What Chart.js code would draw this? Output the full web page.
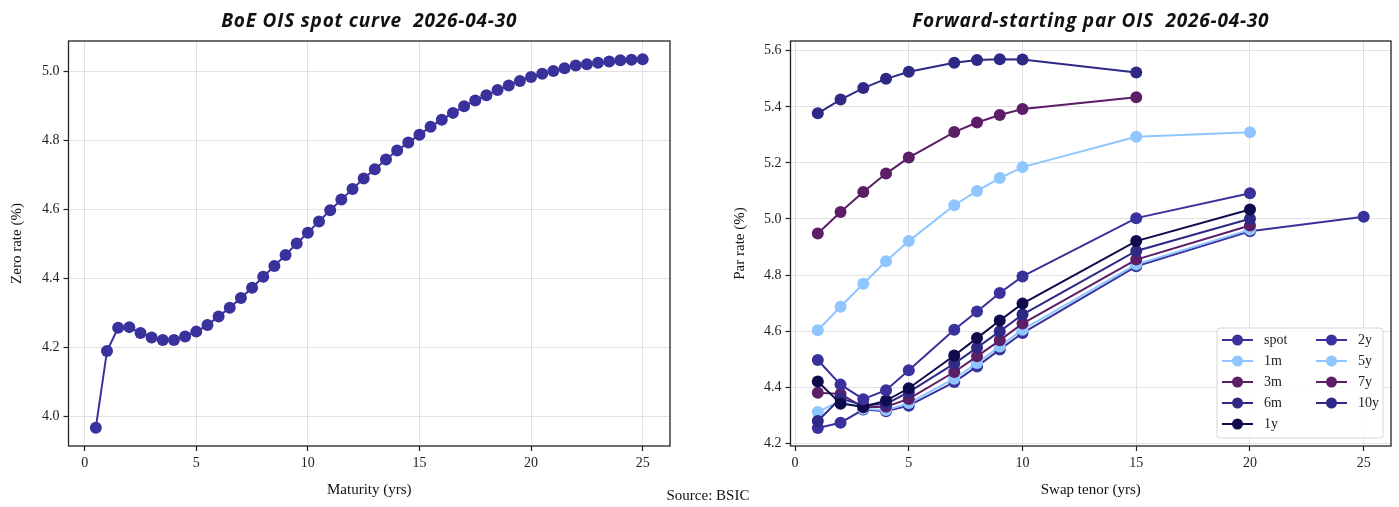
<!DOCTYPE html>
<html>
<head>
<meta charset="utf-8">
<script src="https://cdn.jsdelivr.net/npm/chart.js@4.4.1/dist/chart.umd.min.js"></script>
<style>
  html, body { margin: 0; padding: 0; background: #fff; }
  #wrap { position: relative; width: 1399px; height: 507px; overflow: hidden; }
  #left { position: absolute; left: 0; top: 0; }
  #right { position: absolute; left: 700px; top: 0; }
  #source { position: absolute; left: 608px; width: 200px; top: 487px; text-align: center;
            font: 15px 'Liberation Serif', serif; color: #111; }
</style>
</head>
<body>
<div id="wrap">
  <canvas id="left" width="700" height="507"></canvas>
  <canvas id="right" width="699" height="507"></canvas>
  <div id="source">Source: BSIC</div>
</div>
<script>
// spot zero curve, 0.5y steps
const maturities = [0.5, 1, 1.5, 2, 2.5, 3, 3.5, 4, 4.5, 5, 5.5, 6, 6.5, 7, 7.5, 8, 8.5, 9, 9.5, 10,
  10.5, 11, 11.5, 12, 12.5, 13, 13.5, 14, 14.5, 15, 15.5, 16, 16.5, 17, 17.5, 18, 18.5, 19, 19.5, 20,
  20.5, 21, 21.5, 22, 22.5, 23, 23.5, 24, 24.5, 25];
const zeroRates = [3.968, 4.190, 4.257, 4.259, 4.242, 4.229, 4.222, 4.222, 4.232, 4.246,
  4.265, 4.290, 4.315, 4.343, 4.373, 4.405, 4.436, 4.468, 4.501, 4.532,
  4.565, 4.597, 4.628, 4.659, 4.689, 4.716, 4.744, 4.770, 4.793, 4.816,
  4.839, 4.859, 4.879, 4.898, 4.915, 4.930, 4.945, 4.958, 4.971, 4.983,
  4.992, 5.000, 5.008, 5.016, 5.020, 5.024, 5.028, 5.031, 5.033, 5.034];

// forward-starting par swaps
const tenors = [1, 2, 3, 4, 5, 7, 8, 9, 10, 15, 20, 25];
const fwdLabels = ['spot', '1m', '3m', '6m', '1y', '2y', '5y', '7y', '10y'];
const parSpot = [4.254, 4.273, 4.320, 4.314, 4.334, 4.418, 4.474, 4.534, 4.593, 4.831, 4.956, 5.008];
const par1m = [4.311, 4.352, 4.323, 4.318, 4.343, 4.430, 4.486, 4.545, 4.605, 4.838, 4.962];
const par3m = [4.380, 4.376, 4.328, 4.330, 4.358, 4.454, 4.510, 4.567, 4.627, 4.855, 4.977];
const par6m = [4.279, 4.360, 4.335, 4.340, 4.382, 4.484, 4.541, 4.599, 4.659, 4.886, 5.001];
const par1y = [4.420, 4.341, 4.330, 4.352, 4.396, 4.513, 4.575, 4.638, 4.698, 4.921, 5.034];
const par2y = [4.497, 4.409, 4.357, 4.389, 4.460, 4.605, 4.670, 4.736, 4.795, 5.003, 5.092];
const par5y = [4.603, 4.687, 4.769, 4.849, 4.921, 5.049, 5.100, 5.146, 5.185, 5.293, 5.309];
const par7y = [4.948, 5.025, 5.096, 5.162, 5.219, 5.310, 5.344, 5.371, 5.392, 5.434];
const par10y = [5.377, 5.426, 5.467, 5.500, 5.525, 5.557, 5.567, 5.570, 5.569, 5.523];

const palette = ['#3a329c', '#8fc6ff', '#5c1e66', '#2e2984', '#0f0b4d'];

Chart.defaults.font.family = "'Liberation Serif', serif";
Chart.defaults.font.size = 14;
Chart.defaults.color = '#222';

// box around the plot + title over it
const frame = {
  id: 'frame',
  afterDraw(chart, args, opts) {
    const { ctx, chartArea: a } = chart;
    ctx.save();
    ctx.strokeStyle = '#222';
    ctx.lineWidth = 1.3;
    ctx.strokeRect(a.left, a.top, a.right - a.left, a.bottom - a.top);
    ctx.fillStyle = '#111';
    ctx.font = "italic bold 19px 'Open Sans'";
    ctx.letterSpacing = '0.8px';
    ctx.textAlign = 'center';
    ctx.textBaseline = 'middle';
    ctx.fillText(opts.text, (a.left + a.right) / 2, 22);
    ctx.restore();
  }
};

// two-column legend inside the lower right corner
const boxLegend = {
  id: 'boxLegend',
  afterDraw(chart) {
    const { ctx, chartArea: a } = chart;
    const ds = chart.data.datasets;
    const w = 166, h = 110, rowH = 21;
    const x0 = a.right - 8 - w, y0 = a.bottom - 8 - h;
    ctx.save();
    ctx.beginPath();
    ctx.roundRect(x0, y0, w, h, 3);
    ctx.fillStyle = 'rgba(255,255,255,0.85)';
    ctx.fill();
    ctx.strokeStyle = '#d6d6d6';
    ctx.lineWidth = 1;
    ctx.stroke();
    ctx.font = "14px 'Liberation Serif', serif";
    ctx.textBaseline = 'middle';
    ds.forEach((d, i) => {
      const col = i < 5 ? 0 : 1;
      const row = i < 5 ? i : i - 5;
      const lx = x0 + 5 + col * 94;
      const ly = y0 + 12 + row * rowH;
      ctx.strokeStyle = d.borderColor;
      ctx.lineWidth = 2;
      ctx.beginPath();
      ctx.moveTo(lx, ly);
      ctx.lineTo(lx + 31, ly);
      ctx.stroke();
      ctx.fillStyle = d.borderColor;
      ctx.beginPath();
      ctx.arc(lx + 15.5, ly, 5.5, 0, Math.PI * 2);
      ctx.fill();
      ctx.fillStyle = '#222';
      ctx.fillText(d.label, lx + 42, ly);
    });
    ctx.restore();
  }
};

function axis(min, max, step, digits, title, fitSize, titlePad) {
  return {
    type: 'linear', min: min, max: max,
    border: { display: false },
    grid: { color: '#e2e2e2', lineWidth: 1, tickColor: '#222', tickLength: 5, tickWidth: 1.2 },
    ticks: { stepSize: step, includeBounds: false, padding: 4, color: '#222',
             callback: v => v.toFixed(digits) },
    title: { display: true, text: title, font: { size: 15 }, color: '#111', padding: titlePad },
    afterFit: s => { if (s.isHorizontal()) s.height = fitSize; else s.width = fitSize; }
  };
}

new Chart(document.getElementById('left'), {
  type: 'line',
  data: {
    datasets: [{
      label: 'spot',
      data: maturities.map((m, i) => ({ x: m, y: zeroRates[i] })),
      borderColor: palette[0],
      backgroundColor: palette[0],
      borderWidth: 2,
      pointRadius: 6,
      pointBorderWidth: 0,
      pointBackgroundColor: palette[0]
    }]
  },
  options: {
    responsive: false,
    animation: false,
    devicePixelRatio: 1,
    layout: { padding: { top: 41, left: 0, right: 30, bottom: 0 } },
    plugins: { legend: { display: false }, tooltip: { enabled: false },
               frame: { text: 'BoE OIS spot curve  2026-04-30' } },
    scales: {
      x: axis(-0.725, 26.225, 5, 0, 'Maturity (yrs)', 61, { top: 0, bottom: 8 }),
      y: axis(3.915, 5.087, 0.2, 1, 'Zero rate (%)', 68.5, { top: 8, bottom: 0 })
    }
  },
  plugins: [frame]
});

const parSeries = [parSpot, par1m, par3m, par6m, par1y, par2y, par5y, par7y, par10y];

new Chart(document.getElementById('right'), {
  type: 'line',
  data: {
    datasets: parSeries.map((vals, i) => {
      const c = palette[i % 5];
      return {
        label: fwdLabels[i],
        data: vals.map((v, j) => ({ x: tenors[j], y: v })),
        borderColor: c,
        backgroundColor: c,
        borderWidth: 2,
        pointRadius: 6,
        pointBorderWidth: 0,
        pointBackgroundColor: c,
        order: parSeries.length - i
      };
    })
  },
  options: {
    responsive: false,
    animation: false,
    devicePixelRatio: 1,
    layout: { padding: { top: 41, left: 0, right: 8, bottom: 0 } },
    plugins: { legend: { display: false }, tooltip: { enabled: false },
               frame: { text: 'Forward-starting par OIS  2026-04-30' } },
    scales: {
      x: axis(-0.2, 26.2, 5, 0, 'Swap tenor (yrs)', 61, { top: 0, bottom: 8 }),
      y: axis(4.19, 5.635, 0.2, 1, 'Par rate (%)', 90.5, { top: 31, bottom: 0 })
    }
  },
  plugins: [frame, boxLegend]
});
</script>
</body>
</html>
